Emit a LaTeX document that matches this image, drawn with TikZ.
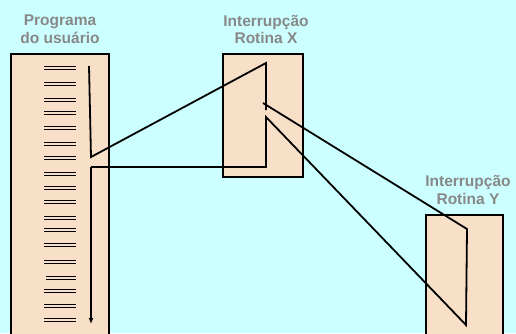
\documentclass[tikz,border=0pt]{standalone}
\usepackage{fontspec}
\setmainfont{Liberation Sans}
\usetikzlibrary{arrows.meta}
\definecolor{bgcyan}{RGB}{204,255,255}
\definecolor{peach}{RGB}{248,223,199}
\definecolor{labelgray}{RGB}{136,136,136}
\tikzset{
  box/.style={draw=black, fill=peach, line width=1.8pt},
  flow/.style={draw=black, line width=1.8pt, line join=miter},
  code/.style={draw=black, line width=1.5pt},
  title/.style={text=labelgray, font=\fontsize{15.5}{17.5}\selectfont\bfseries, align=center, inner sep=0pt, anchor=north}
}
\begin{document}
\begin{tikzpicture}[x=1pt,y=-1pt]
\useasboundingbox (0,0) rectangle (516,333);
\clip (0,0) rectangle (516,333);
\fill[bgcyan] (0,0) rectangle (516,333);
% boxes
\draw[box] (11,54) rectangle (109,345);
\draw[box] (223,54) rectangle (303,177);
\draw[box] (426,215) rectangle (503,345);
% labels
\node[title] (lp) at (60,15) {Programa\\do usuário};
\node[title] (lx) at (266,15) {Interrupção\\Rotina X};
\node[title] (ly) at (468,175.5) {Interrupção\\Rotina Y};
% code lines
\foreach \yy/\xs in {68/44,84/44,100/44,113/44,128/44,144/44,158/44,174/44,188/44,202/44,218/44,230/44,245/44,262/44,278/46,291/44,306/44,320/44}{
  \draw[code] (\xs,\yy-1.7) -- (76,\yy-1.7);
  \draw[code] (\xs,\yy+1.7) -- (76,\yy+1.7);
}
% flow coordinates
\coordinate (p1) at (89,66);
\coordinate (p2) at (91,157);
\coordinate (x1) at (266,63);
\coordinate (x2) at (266,110);
\coordinate (x2b) at (263,103);
\coordinate (y1) at (467,229);
\coordinate (y2) at (466,325);
\coordinate (x3) at (266,117);
\coordinate (x4) at (266,167);
\coordinate (p3) at (91,167);
\coordinate (p4) at (91,324);
\draw[flow] (p1) -- (p2) -- (x1) -- (x2);
\draw[flow] (x2b) -- (y1) -- (y2) -- (x3) -- (x4) -- (p3);
\draw[flow, -{Latex[length=6pt,width=5pt]}] (p3) -- (p4);
\end{tikzpicture}
\end{document}
